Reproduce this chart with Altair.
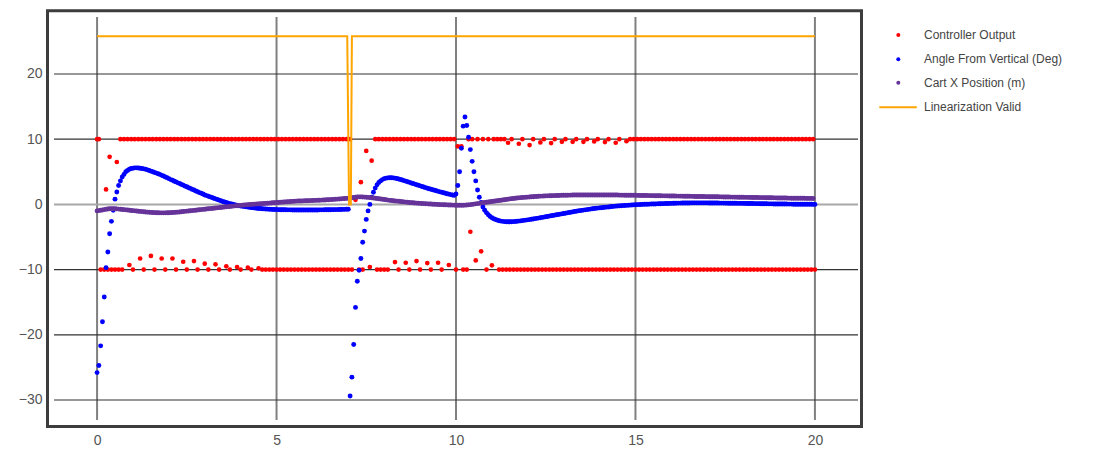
import altair as alt
import pandas as pd

DT = 0.05  # sample spacing of the recorded series (s)

# Controller output, one row per second (None = no sample drawn)
CONTROLLER_OUTPUT = [
    10, 10, -10, None, -10, 2.3, -10, 7.3, -10, None, -10, 6.5, -10, 10, -10, 10, None, 10, -9.3, 10,
    -10, 10, None, 10, -8.3, 10, -10, 10, None, 10, -7.9, 10, -10, 10, None, 10, -8.3, 10, -10, 10,
    None, 10, -8.3, 10, -10, 10, None, 10, -8.8, 10, -10, 10, None, 10, -8.7, 10, -10, 10, None, 10,
    -9.1, 10, -10, 10, None, 10, -9.2, 10, -10, 10, None, 10, -9.5, 10, -10, 10, None, 10, -9.6, 10,
    -10, 10, None, 10, -9.7, 10, -10, 10, None, 10, -9.8, 10, -10, 10, -10, 10, -10, 10, -10, 10,
    -10, 10, -10, 10, -10, 10, -10, 10, -10, 10, -10, 10, -10, 10, -10, 10, -10, 10, -10, 10,
    -10, 10, -10, 10, -10, 10, -10, 10, -10, 10, -10, 10, -10, 10, -10, 10, -10, 10, -10, 10,
    -10, 10, -10, None, 0.7, None, -10, 3.4, -10, None, 8.2, None, -9.6, 6.7, None, 10, -10, 10, -10, 10,
    -10, 10, -10, 10, None, 10, -8.85, 10, -10, 10, None, 10, -8.95, 10, -10, 10, None, 10, -8.7, 10,
    -10, 10, None, 10, -9.0, 10, -10, 10, None, 10, -8.95, 10, -10, 10, None, 10, -9.3, 10, None, 10,
    -10, 8.9, None, 8.9, -10, None, -10, 10, -4.2, 10, None, -8.6, 10, None, -7.2, 10, None, -10, 10, None,
    -9.35, 10, None, 10, -10, 10, -10, 10, -10, 9.45, -10, 10, -10, None, -10, 9.3, -10, 10, -10, None,
    -10, 9.1, -10, 10, -10, None, -10, 9.5, -10, 10, -10, None, -10, 9.4, -10, 10, -10, None, -10, 9.6,
    -10, 10, -10, None, -10, 9.6, -10, 10, -10, None, -10, 9.6, -10, 10, -10, None, -10, 9.65, -10, 10,
    -10, None, -10, 9.55, -10, 10, -10, None, -10, 9.45, -10, 10, -10, None, -10, 9.7, -10, 10, -10, 10,
    -10, 10, -10, 10, -10, 10, -10, 10, -10, 10, -10, 10, -10, 10, -10, 10, -10, 10, -10, 10,
    -10, 10, -10, 10, -10, 10, -10, 10, -10, 10, -10, 10, -10, 10, -10, 10, -10, 10, -10, 10,
    -10, 10, -10, 10, -10, 10, -10, 10, -10, 10, -10, 10, -10, 10, -10, 10, -10, 10, -10, 10,
    -10, 10, -10, 10, -10, 10, -10, 10, -10, 10, -10, 10, -10, 10, -10, 10, -10, 10, -10, 10,
    -10, 10, -10, 10, -10, 10, -10, 10, -10, 10, -10, 10, -10, 10, -10, 10, -10, 10, -10, 10,
    -10,
]

# Angle from vertical (deg), one row per second
ANGLE_DEG = [
    -25.8, -24.7, -21.7, -18.0, -14.2, -9.7, -7.3, -4.5, -2.6, -0.9, 0.8, 1.9, 2.9, 3.6, 4.2, 4.6, 5.0, 5.2, 5.4, 5.5,
    5.55, 5.6, 5.6, 5.58, 5.55, 5.5, 5.45, 5.38, 5.3, 5.2, 5.1, 5.0, 4.9, 4.8, 4.7, 4.6, 4.45, 4.35, 4.2, 4.1,
    3.95, 3.8, 3.7, 3.55, 3.45, 3.3, 3.2, 3.05, 2.95, 2.8, 2.7, 2.55, 2.45, 2.3, 2.2, 2.05, 1.95, 1.8, 1.7, 1.6,
    1.45, 1.35, 1.25, 1.15, 1.05, 0.95, 0.85, 0.75, 0.65, 0.55, 0.45, 0.37, 0.28, 0.2, 0.12, 0.05, -0.02, -0.08, -0.14, -0.2,
    -0.25, -0.3, -0.34, -0.38, -0.42, -0.46, -0.5, -0.53, -0.56, -0.59, -0.62, -0.64, -0.67, -0.69, -0.71, -0.73, -0.75, -0.76, -0.78, -0.79,
    -0.8, -0.81, -0.82, -0.82, -0.83, -0.83, -0.84, -0.84, -0.84, -0.85, -0.85, -0.85, -0.85, -0.85, -0.85, -0.85, -0.85, -0.85, -0.85, -0.85,
    -0.85, -0.85, -0.85, -0.85, -0.84, -0.84, -0.84, -0.83, -0.83, -0.82, -0.82, -0.81, -0.81, -0.8, -0.8, -0.79, -0.78, -0.77, -0.76, -0.75,
    -0.75, -29.4, -26.5, -21.5, -15.8, -11.8, -10.1, -8.3, -5.8, -4.1, -2.3, -1.0, 0.0, 1.1, 1.85, 2.5, 3.0, 3.35, 3.6, 3.8,
    3.95, 4.02, 4.06, 4.08, 4.08, 4.06, 4.02, 3.97, 3.9, 3.82, 3.74, 3.65, 3.56, 3.47, 3.38, 3.29, 3.2, 3.11, 3.02, 2.93,
    2.84, 2.75, 2.66, 2.57, 2.48, 2.4, 2.32, 2.24, 2.16, 2.08, 2.0, 1.92, 1.85, 1.78, 1.71, 1.64, 1.57, 1.5, 1.44, 1.38,
    1.6, 2.9, 5.0, 8.6, 12.0, 13.4, 12.1, 10.3, 8.4, 6.6, 5.0, 3.6, 2.2, 1.1, 0.3, -0.4, -0.9, -1.3, -1.6, -1.85,
    -2.05, -2.2, -2.32, -2.42, -2.5, -2.56, -2.6, -2.64, -2.66, -2.67, -2.67, -2.66, -2.64, -2.62, -2.59, -2.56, -2.53, -2.49, -2.45, -2.41,
    -2.37, -2.33, -2.28, -2.24, -2.19, -2.14, -2.1, -2.05, -2.0, -1.95, -1.9, -1.85, -1.8, -1.75, -1.7, -1.65, -1.6, -1.55, -1.5, -1.45,
    -1.4, -1.35, -1.3, -1.25, -1.2, -1.15, -1.1, -1.05, -1.0, -0.96, -0.92, -0.88, -0.84, -0.8, -0.76, -0.72, -0.68, -0.64, -0.6, -0.57,
    -0.54, -0.51, -0.48, -0.45, -0.42, -0.39, -0.36, -0.33, -0.3, -0.27, -0.25, -0.23, -0.21, -0.19, -0.17, -0.15, -0.13, -0.11, -0.09, -0.07,
    -0.06, -0.04, -0.03, -0.01, 0.0, 0.01, 0.02, 0.03, 0.04, 0.05, 0.06, 0.07, 0.08, 0.09, 0.1, 0.11, 0.12, 0.13, 0.14, 0.15,
    0.16, 0.17, 0.18, 0.19, 0.2, 0.2, 0.21, 0.21, 0.22, 0.22, 0.22, 0.23, 0.23, 0.23, 0.23, 0.23, 0.23, 0.23, 0.23, 0.23,
    0.23, 0.22, 0.22, 0.22, 0.21, 0.21, 0.21, 0.2, 0.2, 0.2, 0.19, 0.19, 0.18, 0.18, 0.18, 0.17, 0.17, 0.16, 0.16, 0.16,
    0.15, 0.15, 0.14, 0.14, 0.13, 0.13, 0.12, 0.12, 0.11, 0.11, 0.1, 0.1, 0.09, 0.09, 0.08, 0.08, 0.08, 0.07, 0.07, 0.06,
    0.06, 0.06, 0.05, 0.05, 0.05, 0.04, 0.04, 0.04, 0.03, 0.03, 0.03, 0.02, 0.02, 0.02, 0.02, 0.01, 0.01, 0.01, 0.01, 0.0,
    0.0,
]

# Cart x position (m), one row per second
CART_X = [
    -1.0, -0.95, -0.9, -0.85, -0.8, -0.75, -0.7, -0.68, -0.66, -0.66, -0.67, -0.69, -0.72, -0.75, -0.78, -0.81, -0.84, -0.87, -0.9, -0.93,
    -0.96, -0.99, -1.02, -1.05, -1.08, -1.11, -1.14, -1.17, -1.19, -1.21, -1.23, -1.25, -1.27, -1.28, -1.29, -1.3, -1.3, -1.3, -1.3, -1.29,
    -1.28, -1.27, -1.25, -1.23, -1.21, -1.19, -1.16, -1.13, -1.1, -1.07, -1.04, -1.01, -0.98, -0.95, -0.92, -0.89, -0.86, -0.83, -0.8, -0.77,
    -0.74, -0.71, -0.68, -0.65, -0.62, -0.59, -0.56, -0.53, -0.5, -0.47, -0.44, -0.41, -0.38, -0.35, -0.32, -0.29, -0.26, -0.23, -0.2, -0.17,
    -0.15, -0.12, -0.1, -0.07, -0.05, -0.02, 0.0, 0.02, 0.04, 0.06, 0.08, 0.1, 0.12, 0.14, 0.16, 0.18, 0.2, 0.22, 0.24, 0.26,
    0.28, 0.3, 0.32, 0.34, 0.36, 0.38, 0.4, 0.42, 0.44, 0.46, 0.48, 0.5, 0.51, 0.52, 0.53, 0.54, 0.55, 0.56, 0.57, 0.58,
    0.6, 0.61, 0.62, 0.63, 0.64, 0.66, 0.67, 0.68, 0.7, 0.71, 0.73, 0.75, 0.77, 0.79, 0.81, 0.83, 0.85, 0.88, 0.9, 0.92,
    0.95, 0.98, 1.02, 1.06, 1.1, 1.13, 1.15, 1.15, 1.14, 1.12, 1.1, 1.07, 1.04, 1.01, 0.98, 0.94, 0.9, 0.86, 0.82, 0.78,
    0.74, 0.7, 0.66, 0.62, 0.59, 0.56, 0.53, 0.5, 0.47, 0.44, 0.41, 0.38, 0.35, 0.32, 0.3, 0.27, 0.25, 0.22, 0.2, 0.18,
    0.16, 0.14, 0.12, 0.1, 0.08, 0.06, 0.05, 0.03, 0.02, 0.0, -0.01, -0.03, -0.04, -0.05, -0.06, -0.08, -0.09, -0.1, -0.11, -0.12,
    -0.13, -0.14, -0.14, -0.14, -0.13, -0.12, -0.1, -0.07, -0.04, 0.0, 0.04, 0.08, 0.12, 0.16, 0.2, 0.24, 0.28, 0.32, 0.36, 0.4,
    0.44, 0.48, 0.52, 0.56, 0.6, 0.64, 0.68, 0.72, 0.76, 0.8, 0.84, 0.88, 0.91, 0.94, 0.97, 1.0, 1.03, 1.06, 1.08, 1.1,
    1.12, 1.14, 1.16, 1.18, 1.2, 1.22, 1.24, 1.26, 1.27, 1.28, 1.3, 1.31, 1.32, 1.33, 1.34, 1.35, 1.36, 1.37, 1.38, 1.39,
    1.4, 1.41, 1.41, 1.42, 1.42, 1.43, 1.43, 1.44, 1.44, 1.44, 1.45, 1.45, 1.45, 1.45, 1.45, 1.45, 1.45, 1.45, 1.45, 1.45,
    1.45, 1.45, 1.45, 1.45, 1.44, 1.44, 1.44, 1.44, 1.43, 1.43, 1.43, 1.42, 1.42, 1.42, 1.41, 1.41, 1.4, 1.4, 1.4, 1.39,
    1.39, 1.38, 1.38, 1.37, 1.37, 1.36, 1.36, 1.35, 1.35, 1.34, 1.34, 1.33, 1.33, 1.32, 1.32, 1.31, 1.31, 1.3, 1.3, 1.29,
    1.29, 1.28, 1.28, 1.27, 1.27, 1.26, 1.26, 1.25, 1.25, 1.24, 1.24, 1.23, 1.23, 1.22, 1.22, 1.21, 1.21, 1.2, 1.2, 1.19,
    1.19, 1.18, 1.18, 1.17, 1.17, 1.16, 1.16, 1.15, 1.15, 1.14, 1.14, 1.13, 1.13, 1.12, 1.12, 1.11, 1.11, 1.1, 1.1, 1.09,
    1.09, 1.08, 1.08, 1.07, 1.07, 1.06, 1.06, 1.05, 1.05, 1.04, 1.04, 1.03, 1.03, 1.02, 1.02, 1.01, 1.01, 1.0, 1.0, 0.99,
    0.99, 0.98, 0.98, 0.97, 0.97, 0.96, 0.96, 0.95, 0.95, 0.94, 0.94, 0.94, 0.93, 0.93, 0.93, 0.92, 0.92, 0.92, 0.92, 0.91,
]

# Linearization-valid flag (drawn at its plotted level), as breakpoints
LIN_T = [0.0, 6.97, 7.02, 7.07, 7.10, 20.0]
LIN_V = [25.8, 25.8, 0.0, 0.0, 25.8, 25.8]

X_TICKS = [0, 5, 10, 15, 20]
Y_LABELS = [-30, -20, -10, 0, 10, 20]
Y_GRID = [20, 10, -10, -20, -30]
Y_ZERO = [0]

LEGEND_LABELS = ["Controller Output", "Angle From Vertical (Deg)", "Cart X Position (m)", "Linearization Valid"]

# ---------------- layout / style ----------------
W, H = 804, 403
RED, BLUE, PURPLE, ORANGE = "#ff0000", "#0000ff", "#663399", "#ffa500"
FONT = "Liberation Sans"


def series_df(values):
    rows = [(round(i * DT, 2), v) for i, v in enumerate(values) if v is not None]
    return pd.DataFrame(rows, columns=["t", "v"])


xs = alt.Scale(domain=[-1.2, 21.2], nice=False, zero=False)
ys = alt.Scale(domain=[-33.07, 28.74], nice=False, zero=False)

x_axis = alt.Axis(values=X_TICKS, title=None, grid=False, ticks=False, domain=False,
                  labelPadding=13, labelFontSize=14, labelColor="#555555", labelFont=FONT, format="d")
y_axis = alt.Axis(values=Y_LABELS, title=None, grid=False, ticks=False, domain=False,
                  labelPadding=12, labelFontSize=14, labelColor="#555555", labelFont=FONT, format="d")

X = lambda f: alt.X(f, scale=xs, axis=x_axis)
Y = lambda f: alt.Y(f, scale=ys, axis=y_axis)

vgrid = alt.Chart(pd.DataFrame({"v": X_TICKS})).mark_rule(color="#808080", strokeWidth=2).encode(x=X("v:Q"))
hgrid = alt.Chart(pd.DataFrame({"v": Y_GRID})).mark_rule(color="#333333", strokeWidth=1.2).encode(y=Y("v:Q"))
zgrid = alt.Chart(pd.DataFrame({"v": Y_ZERO})).mark_rule(color="#a8a8a8", strokeWidth=2).encode(y=Y("v:Q"))

red = alt.Chart(series_df(CONTROLLER_OUTPUT)).mark_circle(size=22, color=RED, opacity=1).encode(
    x=X("t:Q"), y=Y("v:Q"))
blue = alt.Chart(series_df(ANGLE_DEG)).mark_circle(size=24, color=BLUE, opacity=1).encode(
    x=X("t:Q"), y=Y("v:Q"))
purple = alt.Chart(series_df(CART_X)).mark_circle(size=24, color=PURPLE, opacity=1).encode(
    x=X("t:Q"), y=Y("v:Q"))
orange = alt.Chart(pd.DataFrame({"t": LIN_T, "v": LIN_V})).mark_line(color=ORANGE, strokeWidth=2).encode(
    x=X("t:Q"), y=Y("v:Q"))

one = pd.DataFrame({"k": [0]})
frame = alt.Chart(one).mark_rect(fillOpacity=0, stroke="#3d3d3d", strokeWidth=3).encode(
    x=alt.value(-6.5), x2=alt.value(W + 3.5), y=alt.value(-6.2), y2=alt.value(H + 6.5))

# legend (drawn beside the frame)
LEG_ROW_Y = [18, 42.3, 65.7, 90.3]
LEG_SYM_X, LEG_TXT_X = 844.3, 870
legend_layers = []
for i, (lab, col) in enumerate(zip(LEGEND_LABELS, [RED, BLUE, PURPLE, ORANGE])):
    d = pd.DataFrame({"label": [lab]})
    if i < 3:
        legend_layers.append(alt.Chart(d).mark_circle(size=16, color=col, opacity=1).encode(
            x=alt.value(LEG_SYM_X), y=alt.value(LEG_ROW_Y[i])))
    else:
        legend_layers.append(alt.Chart(d).mark_rule(color=col, strokeWidth=2).encode(
            x=alt.value(LEG_SYM_X - 19), x2=alt.value(LEG_SYM_X + 18.5), y=alt.value(LEG_ROW_Y[i])))
    legend_layers.append(alt.Chart(d).mark_text(align="left", baseline="middle", fontSize=12,
                                                 font=FONT, color="#444444").encode(
        x=alt.value(LEG_TXT_X), y=alt.value(LEG_ROW_Y[i]), text="label:N"))

chart = alt.layer(vgrid, hgrid, zgrid, red, blue, purple, orange, frame, *legend_layers).properties(
    width=W, height=H,
    autosize=alt.AutoSizeParams(type="none"),
    padding={"left": 46, "top": 9, "right": 230, "bottom": 28},
    background="white",
).configure_view(strokeWidth=0)

chart.save("out.html", embed_options={"renderer": "svg", "actions": False})
